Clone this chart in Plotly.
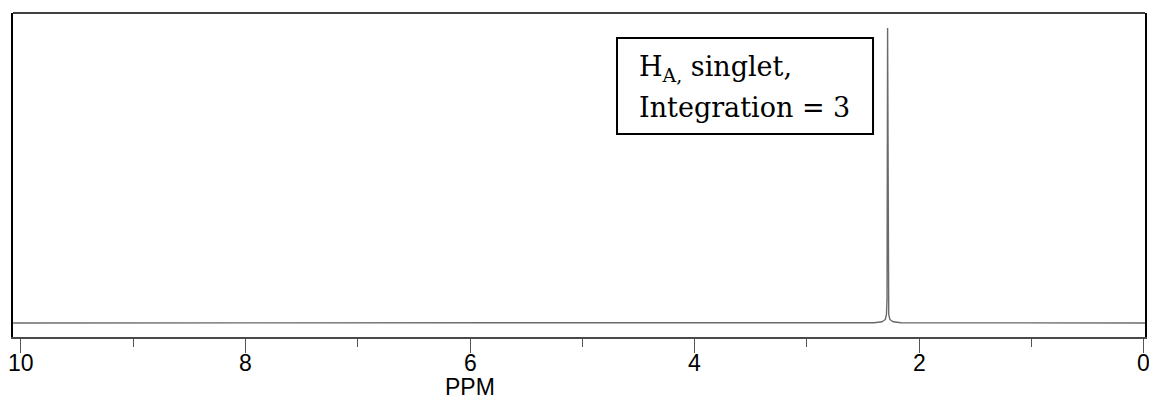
import plotly.graph_objects as go

# 1H NMR spectrum: chemical shift (ppm) and relative intensity
shift_ppm = [10.07, 2.40, 2.33, 2.30, 2.29, 2.285, 2.28, 2.275, 2.27, 2.26, 2.23, 2.16, -0.013]
intensity = [0.0, 0.001, 0.004, 0.012, 0.03, 0.08, 1.0, 0.08, 0.03, 0.012, 0.004, 0.001, 0.0]

major_ticks = [10, 8, 6, 4, 2, 0]
minor_ticks = [9, 7, 5, 3, 1]

fig = go.Figure()
fig.add_trace(go.Scatter(
    x=shift_ppm, y=intensity, mode="lines",
    line=dict(color="#6a6a6a", width=1.4),
    hoverinfo="skip", showlegend=False,
))

# ppm labels under the major ticks (kept as annotations so the edge label
# may run past the page border)
tick_labels = [
    dict(text=str(v), x=v, y=-0.080, xref="x", yref="paper",
         xanchor="center", yanchor="middle", showarrow=False,
         font=dict(family="Liberation Sans", size=23, color="black"))
    for v in major_ticks
]

fig.update_layout(
    width=1149, height=399,
    margin=dict(l=13, r=4, t=13, b=62, autoexpand=False),
    paper_bgcolor="white", plot_bgcolor="white",
    xaxis=dict(
        range=[10.071, -0.013], automargin=False,
        tickvals=major_ticks, showticklabels=False,
        ticks="outside", ticklen=14, tickwidth=1.2, tickcolor="#555555",
        minor=dict(tickvals=minor_ticks, ticks="outside", ticklen=8,
                   tickwidth=1.2, tickcolor="#555555"),
        showline=True, linecolor="#4a4a4a", linewidth=1.5,
        showgrid=False, zeroline=False,
    ),
    yaxis=dict(
        range=[-0.0475, 1.0508], automargin=False,
        showticklabels=False, ticks="", showgrid=False, zeroline=False,
        showline=True, mirror=True, linecolor="black", linewidth=2,
    ),
    shapes=[
        # top frame edge
        dict(type="line", xref="paper", yref="paper", x0=0, x1=1, y0=1, y1=1,
             line=dict(color="black", width=1.5)),
        # label box
        dict(type="rect", xref="x", yref="y",
             x0=10 - (617 - 21) / 112.25, x1=10 - (873 - 21) / 112.25,
             y0=(323 - 134) / 295, y1=(323 - 38) / 295,
             line=dict(color="black", width=2), fillcolor="rgba(0,0,0,0)"),
    ],
    annotations=tick_labels + [
        dict(text="H<sub>A,</sub> singlet,", x=10 - (637 - 21) / 112.25,
             y=(323 - 69) / 295, xref="x", yref="y", xanchor="left",
             yanchor="middle", showarrow=False,
             font=dict(family="DejaVu Serif", size=27, color="black")),
        dict(text="Integration = 3", x=10 - (637 - 21) / 112.25,
             y=(323 - 108) / 295, xref="x", yref="y", xanchor="left",
             yanchor="middle", showarrow=False,
             font=dict(family="DejaVu Serif", size=27, color="black")),
        dict(text="PPM", x=6, y=-0.155, xref="x", yref="paper",
             xanchor="center", yanchor="middle", showarrow=False,
             font=dict(family="Liberation Sans", size=23, color="black")),
    ],
)

fig.write_html("out.html")
